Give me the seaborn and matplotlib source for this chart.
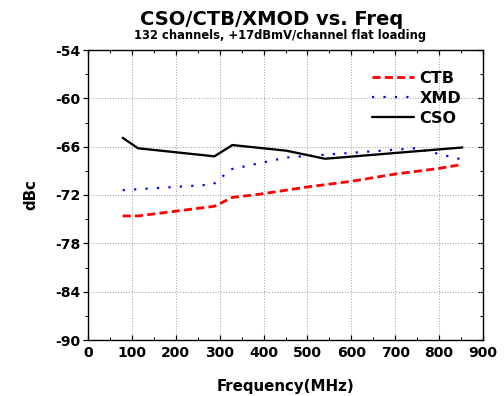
import matplotlib
matplotlib.use("Agg")
import matplotlib.pyplot as plt
import seaborn as sns
import pandas as pd
from matplotlib.ticker import MultipleLocator

# ---- data ----
ctb_freq = [79, 114, 288, 329, 391, 500, 600, 700, 800, 853]
ctb_dbc = [-74.6, -74.6, -73.4, -72.3, -71.9, -71.0, -70.3, -69.4, -68.7, -68.2]

xmd_freq = [79, 285, 326, 452, 540, 745, 853]
xmd_dbc = [-71.4, -70.7, -68.8, -67.35, -67.0, -66.2, -67.6]

cso_freq = [79, 114, 288, 329, 452, 540, 853]
cso_dbc = [-64.9, -66.2, -67.2, -65.8, -66.5, -67.5, -66.1]

series_names = ["CTB", "XMD", "CSO"]
title = "CSO/CTB/XMOD vs. Freq"
subtitle = "132 channels, +17dBmV/channel flat loading"
x_label = "Frequency(MHz)"
y_label = "dBc"

sns.set_style("white")
plt.rcParams["font.family"] = ["DejaVu Sans"]
plt.rcParams["font.weight"] = "bold"
plt.rcParams["axes.unicode_minus"] = False
plt.rcParams["text.color"] = "black"
plt.rcParams["axes.labelcolor"] = "black"
plt.rcParams["xtick.color"] = "black"
plt.rcParams["ytick.color"] = "black"

fig = plt.figure(figsize=(7.0, 5.5), dpi=72)
ax = fig.add_axes([88 / 504, 56 / 396, 395 / 504, 290 / 396])

df_ctb = pd.DataFrame({"f": ctb_freq, "d": ctb_dbc})
df_xmd = pd.DataFrame({"f": xmd_freq, "d": xmd_dbc})
df_cso = pd.DataFrame({"f": cso_freq, "d": cso_dbc})

sns.lineplot(data=df_ctb, x="f", y="d", ax=ax, color="#ff0000", lw=2.8,
             linestyle=(0, (2.9, 1.5)), label=series_names[0], sort=False)
sns.lineplot(data=df_xmd, x="f", y="d", ax=ax, color="#0000ff", lw=2.2,
             linestyle=(0, (1, 4.2)), label=series_names[1], sort=False)
sns.lineplot(data=df_cso, x="f", y="d", ax=ax, color="#000000", lw=2.3,
             linestyle="-", label=series_names[2], sort=False)

ax.set_xlim(0, 900)
ax.set_ylim(-90, -54)
ax.xaxis.set_major_locator(MultipleLocator(100))
ax.xaxis.set_minor_locator(MultipleLocator(50))
ax.yaxis.set_major_locator(MultipleLocator(6))
ax.yaxis.set_minor_locator(MultipleLocator(3))

ax.grid(True, which="major", color="#8c8c8c", linestyle=(0, (1, 2)), linewidth=0.9)
for s in ax.spines.values():
    s.set_linewidth(1.4)
    s.set_color("black")

ax.tick_params(axis="x", which="both", direction="in", top=True, bottom=True,
               labelsize=14, pad=6, colors="black")
ax.tick_params(axis="x", which="major", length=5, width=1.2)
ax.tick_params(axis="x", which="minor", length=3, width=1.0)
ax.tick_params(axis="y", which="both", direction="out", left=True, right=False,
               labelsize=14, pad=3, colors="black")
ax.tick_params(axis="y", which="major", length=5, width=1.2)
ax.tick_params(axis="y", which="minor", length=3, width=1.0)
for lab in ax.get_xticklabels() + ax.get_yticklabels():
    lab.set_fontweight("bold")

sec = ax.secondary_yaxis("right")
sec.yaxis.set_major_locator(MultipleLocator(6))
sec.yaxis.set_minor_locator(MultipleLocator(3))
sec.tick_params(which="both", direction="in", labelright=False, colors="black")
sec.tick_params(which="major", length=5, width=1.2)
sec.tick_params(which="minor", length=3, width=1.0)

ax.set_xlabel("")
ax.set_ylabel(y_label, fontsize=15, fontweight="bold", labelpad=16, color="black")
fig.text(285.5 / 504, 1 - 391 / 396, x_label, ha="center", va="baseline",
         fontsize=15, fontweight="bold", color="black")

fig.text(272 / 504, 1 - 25.0 / 396, title, ha="center", va="baseline",
         fontsize=19.5, fontweight="bold", color="black")
fig.text(280 / 504, 1 - 38.5 / 396, subtitle, ha="center", va="baseline",
         fontsize=11.5, fontweight="bold", color="black")

leg = ax.legend(loc="upper right", bbox_to_anchor=(0.965, 0.955), frameon=False,
                prop={"size": 16, "weight": "bold"}, handlelength=2.6,
                handletextpad=0.35, labelspacing=0.3, borderpad=0)
for t in leg.get_texts():
    t.set_color("black")

fig.savefig("out.png", dpi=72)
